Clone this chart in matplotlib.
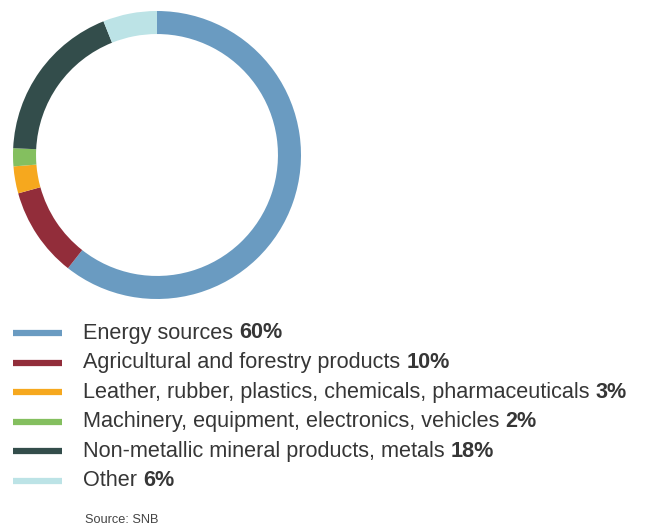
import matplotlib.pyplot as plt
from matplotlib.lines import Line2D

# data
categories = ['Energy sources', 'Agricultural and forestry products',
              'Leather, rubber, plastics, chemicals, pharmaceuticals',
              'Machinery, equipment, electronics, vehicles',
              'Non-metallic mineral products, metals', 'Other']
shares = [60, 10, 3, 2, 18, 6]
colors = ['#6a9bc1', '#922d3a', '#f6a81e', '#84bf5f', '#334d4b', '#bce3e6']

W, H = 646, 532
fig = plt.figure(figsize=(W / 100, H / 100), dpi=100)
plt.rcParams['font.family'] = ['Liberation Sans', 'DejaVu Sans']

# donut
cx, cy, r = 157, 155, 144
ax = fig.add_axes([(cx - r) / W, (H - cy - r) / H, 2 * r / W, 2 * r / H])
ax.pie(shares, colors=colors, startangle=90, counterclock=False,
       wedgeprops=dict(width=0.16, linewidth=0))
ax.set_xlim(-1, 1)
ax.set_ylim(-1, 1)
ax.set_aspect('equal')
ax.axis('off')

# legend
txt_color = '#363636'
fs = 15.6
y0, dy = 333, 29.6
fig.canvas.draw()
renderer = fig.canvas.get_renderer()
for i, (cat, val, col) in enumerate(zip(categories, shares, colors)):
    y = (H - (y0 + i * dy)) / H
    fig.add_artist(Line2D([13 / W, 62 / W], [y, y], color=col, lw=4.5,
                          solid_capstyle='butt'))
    t = fig.text(83 / W, y, cat + ' ', fontsize=fs, color=txt_color,
                 va='center', ha='left')
    bb = t.get_window_extent(renderer)
    fig.text(bb.x1 / W, y, f'{val}%', fontsize=fs, color=txt_color,
             fontweight='bold', va='center', ha='left')

fig.text(85 / W, (H - 520) / H, 'Source: SNB', fontsize=9.2,
         color='#444444', va='center', ha='left')

fig.savefig('out.png', dpi=100)
